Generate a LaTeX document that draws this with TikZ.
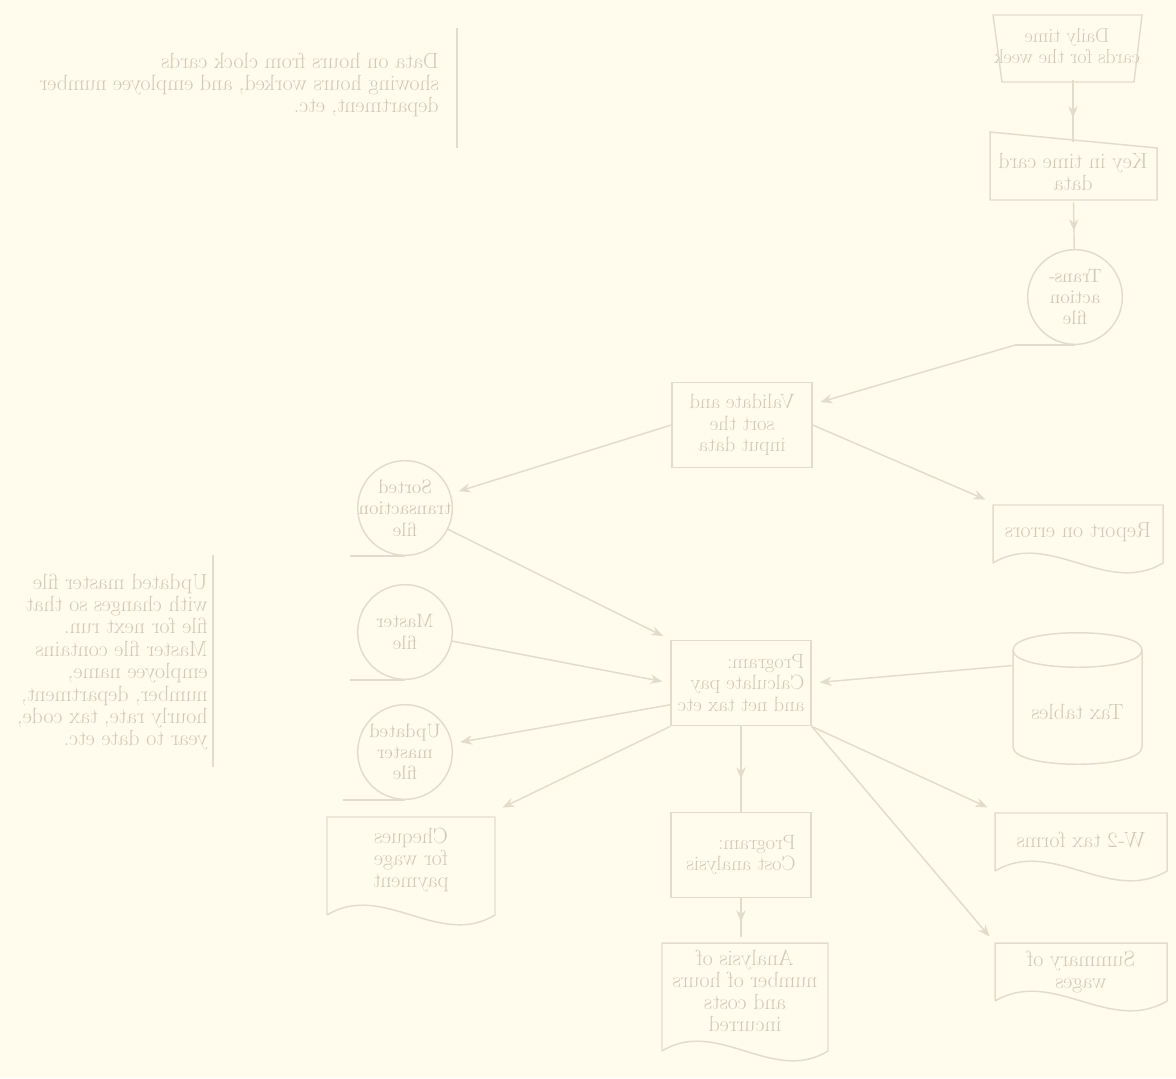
\documentclass[tikz,border=0pt]{standalone}
\usepackage{fontspec}
\usetikzlibrary{calc,arrows.meta,decorations.markings}
\definecolor{paper}{RGB}{255,252,238}
\definecolor{ink}{RGB}{226,220,204}
\definecolor{print}{RGB}{208,201,183}
% document symbol: origin at top-left, #1 = width, #2 = height of the side edges
\tikzset{
  pics/docshape/.style n args={2}{code={
    \draw[outline] (0,#2) -- (0,0) -- (#1,0) -- (#1,#2)
      .. controls ({#1*2/3},{#2+34}) and ({#1/3},{#2-34}) .. (0,#2);
  }},
}
\begin{document}
% the sheet is printed in reverse: coordinates run left to right, every node is reflected
\begin{tikzpicture}[x=-0.75pt, y=-0.75pt, xscale=-1,
  every node/.append style={transform shape, text=print, inner sep=0pt,
    font=\fontsize{16.5}{16.6}\selectfont},
  outline/.style={draw=ink, line width=1.1pt},
  procbox/.style={outline, rectangle, minimum width=105pt, minimum height=64pt,
    font=\fontsize{15.5}{16.2}\selectfont},
  tapefile/.style={outline, circle, minimum size=71pt},
  tapetext/.style={align=center, font=\fontsize{14.5}{16}\selectfont},
  shapetext/.style={rectangle, align=center},
  note/.style={anchor=west, align=left, font=\fontsize{16.5}{16.8}\selectfont},
  flow/.style={draw=ink, line width=1.1pt, -{Stealth[length=9pt,width=7pt]}, shorten >=6pt},
  midflow/.style={draw=ink, line width=1.1pt, postaction={decorate},
    decoration={markings, mark=at position 0.62 with {\arrow{Stealth[length=9pt,width=7pt]}}}},
]
\fill[paper] (0,0) rectangle (1176,1078);
\useasboundingbox (0,0) rectangle (1176,1078);

% ---- input: time cards (manual operation) and keyed data (manual input)
\draw[outline] (993,15) -- (1142,15) -- (1134,82) -- (1002,82) -- cycle;
\node[shapetext, minimum width=110pt, minimum height=50pt,
  font=\fontsize{15}{16}\selectfont] (timecards) at (1067,46)
  {Daily time\\cards for the week};

\draw[outline] (990,132) -- (1157,148) -- (1157,200) -- (990,200) -- cycle;
\node[shapetext, minimum width=125pt, minimum height=45pt] (keyin) at (1073,172)
  {Key in time card\\data};

% ---- transaction tape
\node[tapefile] (transfile) at (1075,297) {};
\draw[outline] (transfile.south) -- ++(-60,0) coordinate (tftail);
\node[tapetext] (transfile-t) at (transfile) {Trans-\\action\\file};

% ---- validation run
\node[procbox, align=center] (validate) at (742,425) {Validate and\\sort the\\input data};

\pic at (993,505) {docshape={170}{58}};
\node[shapetext, minimum width=127.5pt, minimum height=43.5pt] (errors) at (1078,532)
  {Report on errors};

\node[tapefile] (sortfile) at (405,508) {};
\draw[outline] (sortfile.south) -- ++(-55,0);
\node[tapetext] (sortfile-t) at (sortfile) {Sorted\\transaction\\file};

% ---- master files
\node[tapefile] (master) at (405,632) {};
\draw[outline] (master.south) -- ++(-55,0);
\node[tapetext] (master-t) at (master) {Master\\file};

\node[tapefile] (updmaster) at (405,752) {};
\draw[outline] (updmaster.south) -- ++(-62,0);
\node[tapetext] (updmaster-t) at (updmaster) {Updated\\master\\file};

% ---- pay calculation
\node[procbox, align=left] (calcpay) at (741,683) {Program:\\Calculate pay\\and net tax etc};

% tax tables (disk)
\draw[outline] (1013,650) .. controls (1013,627) and (1142,627) .. (1142,650)
  .. controls (1142,673) and (1013,673) .. (1013,650);
\draw[outline] (1013,650) -- (1013,747) .. controls (1013,770) and (1142,770) .. (1142,747) -- (1142,650);
\node[shapetext, minimum width=97pt, minimum height=97pt] (taxtab) at (1077.5,698) {};
\node[shapetext] (taxtab-t) at (1077.5,712) {Tax tables};

% outputs of the pay run
\pic at (327,817) {docshape={168}{98}};
\node[shapetext, minimum width=126pt, minimum height=73pt] (cheques) at (411,860)
  {Cheques\\for wage\\payment};

\pic at (995,813) {docshape={172}{58}};
\node[shapetext, minimum width=129pt, minimum height=43.5pt] (wtwo) at (1081,840)
  {W-2 tax forms};

\pic at (995,943) {docshape={172}{58}};
\node[shapetext, minimum width=129pt, minimum height=43.5pt] (summary) at (1081,972)
  {Summary of\\wages};

% ---- cost analysis
\node[procbox, align=left] (costan) at (741,855) {Program:\\Cost analysis};

\pic at (662,943) {docshape={166}{108}};
\node[shapetext, minimum width=124.5pt, minimum height=81pt] (analysis) at (745,991)
  {Analysis of\\number of hours\\and costs\\incurred};

% ---- notes
\node[note] (topnote) at (439,85)
  {Data on hours from clock cards\\showing hours worked, and employee number\\department, etc.};
\draw[outline] (457,28) -- (457,148);

\node[note] (leftnote) at (208,662)
  {Updated master file\\with changes so that\\file for next run.\\Master file contains\\employee name,\\number, department,\\hourly rate, tax code,\\year to date etc.};
\draw[outline] (213,555) -- (213,767);

% ---- flow lines
\draw[midflow] (timecards.south -| keyin) -- (keyin);
\draw[midflow] (keyin) -- (transfile);
\draw[flow] (tftail) -- (validate);
\draw[flow] (validate.west) -- (errors.north east);
\draw[flow] (validate.east) -- (sortfile);
\draw[flow] (sortfile) -- (calcpay.north east);
\draw[flow] (master) -- (calcpay.east);
\draw[flow] ($(calcpay.east)!0.5!(calcpay.south east)$) -- (updmaster);
\draw[flow] (calcpay.south east) -- (cheques.north west);
\draw[flow] ($(taxtab.north east)!0.25!(taxtab.south east)$) -- (calcpay.west);
\draw[midflow] (calcpay) -- (costan);
\draw[midflow] (costan.south) -- (costan.south |- analysis.north);
\draw[flow] (calcpay.south west) -- (wtwo.north east);
\draw[flow] (calcpay.south west) -- (summary.north east);
\end{tikzpicture}
\end{document}
